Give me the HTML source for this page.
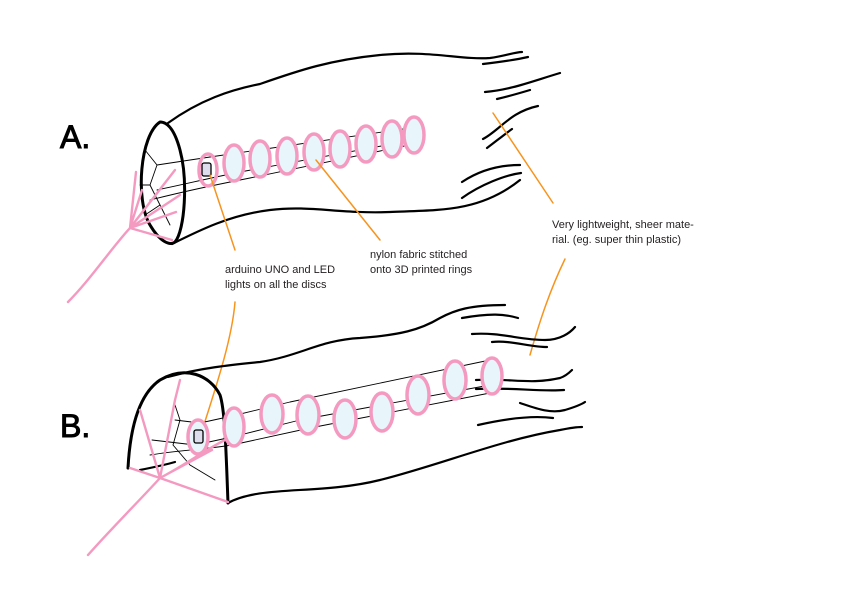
<!DOCTYPE html>
<html><head><meta charset="utf-8"><style>
html,body{margin:0;padding:0;background:#fff;}
svg{display:block;}
text{font-family:"Liberation Sans",sans-serif;fill:#231f20;}
</style></head><body>
<svg width="842" height="595" viewBox="0 0 842 595" xmlns="http://www.w3.org/2000/svg">
<g fill="none" stroke-linecap="round" stroke-linejoin="round">
<g stroke="#000" stroke-width="2.2">
<path d="M168,123 C200,100 230,90 260,84 C300,70 330,60 380,55 C430,50 460,60 490,58 C505,56 515,52 522,52"/>
<path d="M172,244 C200,230 230,215 270,210 C310,205 340,214 390,212 C440,210 480,212 520,180"/>
<path d="M160,122 C140,135 135,200 150,225 C160,242 170,246 175,242 C185,230 188,180 180,150 C176,135 170,122 160,122 Z" stroke-width="3"/>
<path d="M483,64 C500,62 515,60 528,57"/>
<path d="M485,92 C510,90 530,82 560,73"/>
<path d="M497,99 C510,96 520,93 530,90"/>
<path d="M483,139 C500,130 510,112 538,106"/>
<path d="M487,148 C495,142 505,134 512,129"/>
<path d="M462,182 C480,170 500,165 520,165"/>
<path d="M462,198 C480,185 505,175 521,173"/>
</g>
<g stroke="#000" stroke-width="0.9">
<path d="M157,165 L210,157 L410,128"/>
<path d="M157,190 C190,183 210,178 240,172 L414,140"/>
<path d="M150,200 C190,190 215,185 250,178 L414,144"/>
<path d="M157,165 L150,185 L160,205 L170,225"/>
<path d="M145,150 L157,165 M140,185 L150,185 M145,215 L160,205"/>
</g>
<g stroke="#f49ac1" stroke-width="2.4">
<path d="M68,302 C90,280 110,250 130,228"/>
<path d="M130,228 L175,170 M130,228 L180,195 M130,228 L176,212 M130,228 L172,240 M130,228 L142,190 M130,228 L136,172"/>
</g>
<g stroke="#f49ac1" stroke-width="3.5" fill="#e8f5fa">
<ellipse cx="208" cy="170" rx="9" ry="16" fill="none"/>
<ellipse cx="234" cy="163" rx="10" ry="18"/>
<ellipse cx="260" cy="159" rx="10" ry="18"/>
<ellipse cx="287" cy="156" rx="10" ry="18"/>
<ellipse cx="314" cy="152" rx="10" ry="18"/>
<ellipse cx="340" cy="149" rx="10" ry="18"/>
<ellipse cx="366" cy="144" rx="10" ry="18"/>
<ellipse cx="392" cy="139" rx="10" ry="18"/>
<ellipse cx="414" cy="135" rx="10" ry="18"/>
</g>
<rect x="202" y="163" width="9" height="13" rx="2" stroke="#000" stroke-width="1.3" fill="#dde"/>
<g stroke="#f7941d" stroke-width="1.5">
<path d="M235,250 L210,175"/>
<path d="M380,240 L316,160"/>
<path d="M493,113 L553,203"/>
<path d="M565,259 C550,290 540,320 530,355"/>
<path d="M235,302 C232,340 215,390 200,437"/>
</g>
<g stroke="#000" stroke-width="2.2">
<path d="M168,377 C200,368 230,365 260,362 C300,356 320,340 360,338 C400,335 420,330 440,318 C455,310 470,305 505,305"/>
<path d="M228,503 C260,485 320,495 380,480 C440,465 500,440 560,430 C570,428 578,427 582,427"/>
<path d="M128,468 C130,430 138,395 160,380 C185,365 210,375 220,395 C225,410 226,450 228,503" stroke-width="3"/>
<path d="M462,318 C490,313 505,314 518,318"/>
<path d="M472,334 C500,332 520,340 545,340 C560,340 570,333 575,327"/>
<path d="M492,342 C510,340 530,347 547,347"/>
<path d="M476,380 C510,378 530,385 560,378 C566,376 570,372 572,370"/>
<path d="M476,389 C510,387 540,392 564,390"/>
<path d="M520,403 C535,408 550,414 565,410 C575,407 582,404 585,402"/>
<path d="M478,425 C500,420 530,415 553,418"/>
<path d="M140,470 C150,468 165,465 175,462"/>
</g>
<g stroke="#000" stroke-width="0.9">
<path d="M175,420 L200,423 L232,416 L290,402 L490,360"/>
<path d="M152,440 L195,445 L232,437 L300,420 L490,385"/>
<path d="M150,455 C180,450 200,450 232,445 L310,428 L490,393"/>
<path d="M173,445 L180,420 L175,405 M173,445 L190,465 L215,480"/>
</g>
<g stroke="#f49ac1" stroke-width="2.4">
<path d="M88,555 C110,530 140,500 160,478"/>
<path d="M160,478 L175,400 L180,380 M160,478 L130,468 M160,478 L228,502 M160,478 L212,450 M160,478 L140,410 M160,478 C185,465 205,450 225,440"/>
</g>
<g stroke="#f49ac1" stroke-width="3.5" fill="#e8f5fa">
<ellipse cx="198" cy="437" rx="10" ry="17"/>
<ellipse cx="234" cy="427" rx="10" ry="19"/>
<ellipse cx="272" cy="414" rx="11" ry="19"/>
<ellipse cx="308" cy="415" rx="11" ry="19"/>
<ellipse cx="345" cy="419" rx="11" ry="19"/>
<ellipse cx="382" cy="412" rx="11" ry="19"/>
<ellipse cx="418" cy="395" rx="11" ry="19"/>
<ellipse cx="455" cy="380" rx="11" ry="19"/>
<ellipse cx="492" cy="376" rx="10" ry="18"/>
</g>
<rect x="194" y="430" width="9" height="13" rx="2" stroke="#000" stroke-width="1.3" fill="#dde"/>
</g>
<text x="60" y="148" font-size="32" style="fill:#000;stroke:#000;stroke-width:1">A.</text>
<text x="60" y="437" font-size="32" style="fill:#000;stroke:#000;stroke-width:1">B.</text>
<text x="225" y="273" font-size="11">arduino UNO and LED</text>
<text x="225" y="288" font-size="11">lights on all the discs</text>
<text x="370" y="258" font-size="11">nylon fabric stitched</text>
<text x="370" y="273" font-size="11">onto 3D printed rings</text>
<text x="552" y="228" font-size="11">Very lightweight, sheer mate-</text>
<text x="552" y="243" font-size="11">rial. (eg. super thin plastic)</text>
</svg>
</body></html>
